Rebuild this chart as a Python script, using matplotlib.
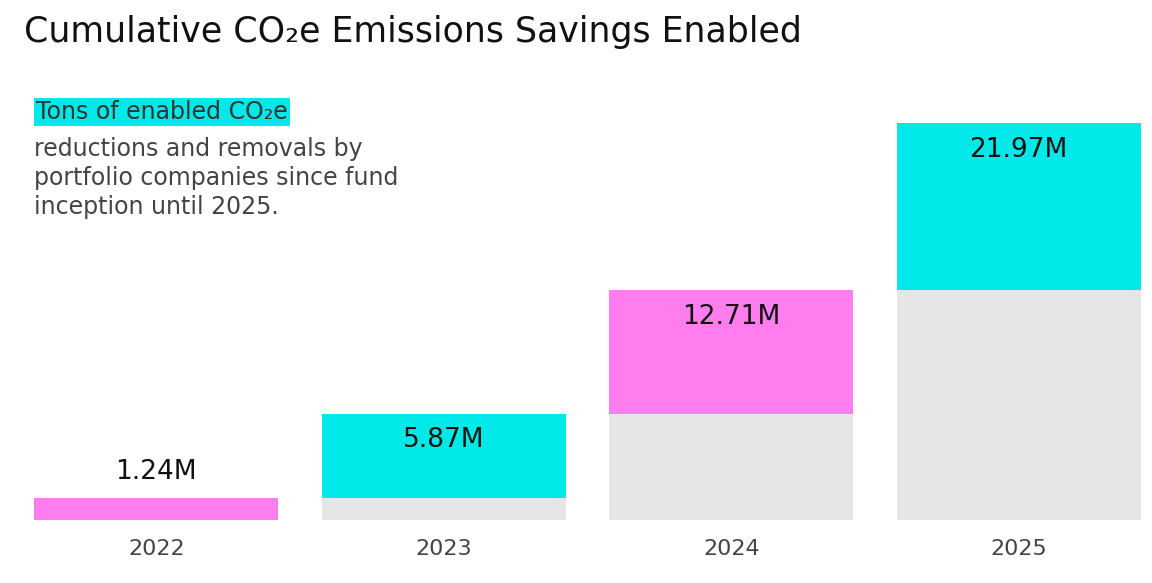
import matplotlib
matplotlib.use("Agg")
import matplotlib.pyplot as plt

years = ["2022", "2023", "2024", "2025"]
cumulative = [1.24, 5.87, 12.71, 21.97]
labels = ["1.24M", "5.87M", "12.71M", "21.97M"]
colors = ["#FF7DEE", "#00E9E9", "#FF7DEE", "#00E9E9"]
grey = "#E6E6E6"

base = [0] + cumulative[:-1]
inc = [c - b for c, b in zip(cumulative, base)]

fig = plt.figure(figsize=(11.52, 5.83), dpi=100)
ax = fig.add_axes([34/1152, 63/583, (1141-34)/1152, 420/583])
x = range(len(years))
ax.bar(x, base, width=0.85, color=grey)
ax.bar(x, inc, bottom=base, width=0.85, color=colors)
for i, (c, l) in enumerate(zip(cumulative, labels)):
    if i == 0:
        ax.text(i, c + 0.7, l, ha="center", va="bottom", fontsize=19, color="#111")
    else:
        ax.text(i, c - 0.75, l, ha="center", va="top", fontsize=19, color="#111")
ax.set_xlim(-0.425, 3.425)
ax.set_ylim(0, 420/18.07)
ax.set_xticks(list(x))
ax.set_xticklabels(years, fontsize=16, color="#444")
ax.tick_params(length=0, pad=14)
for s in ax.spines.values():
    s.set_visible(False)
ax.set_yticks([])

fig.text(24/1152, 1 - 32/583, "Cumulative CO₂e Emissions Savings Enabled", fontsize=25,
         color="#111", va="center", ha="left")
fig.text(36/1152, 1 - 112/583, "Tons of enabled CO₂e", fontsize=17, color="#333",
         va="center", ha="left",
         bbox=dict(facecolor="#00E9E9", edgecolor="none", pad=1.5))
fig.text(34/1152, 1 - 178/583,
         "reductions and removals by\nportfolio companies since fund\ninception until 2025.",
         fontsize=17, color="#444", va="center", ha="left", linespacing=1.25)
fig.savefig("out.png", dpi=100, facecolor="white")
